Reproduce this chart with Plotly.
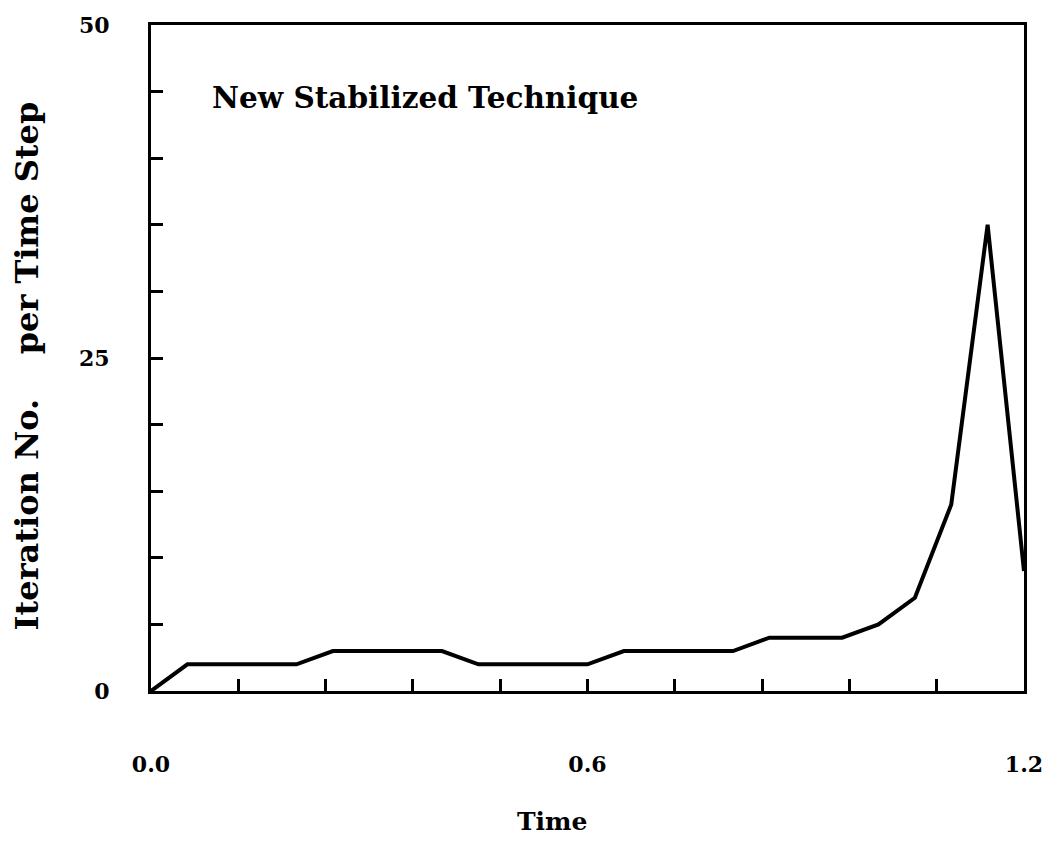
import plotly.graph_objects as go

time = [0.0, 0.05, 0.10, 0.15, 0.20, 0.25, 0.30, 0.35, 0.40, 0.45, 0.50, 0.55,
        0.60, 0.65, 0.70, 0.75, 0.80, 0.85, 0.90, 0.95, 1.00, 1.05, 1.10, 1.15, 1.20]
iterations = [0, 2, 2, 2, 2, 3, 3, 3, 3, 2, 2, 2,
              2, 3, 3, 3, 3, 4, 4, 4, 5, 7, 14, 35, 9]

x_tickvals = [0.0, 0.6, 1.2]
x_ticktext = ["0.0", "0.6", "1.2"]
y_tickvals = [0, 25, 50]
y_ticktext = ["0", "25", "50"]

FONT = "DejaVu Serif"

PL, PR, PT, PB = 151, 1031, 24, 691
W, H = 1055, 844


def px_to_paper(xp, yp):
    return (xp - PL) / (PR - PL), (PB - yp) / (PB - PT)


tx, ty = px_to_paper(210, 97)
xx, xy = px_to_paper(555, 822)
yx, yy = px_to_paper(27, 365)

fig = go.Figure()
fig.add_trace(go.Scatter(x=time, y=iterations, mode="lines",
                         line=dict(color="black", width=4), showlegend=False))

fig.update_layout(
    width=W, height=H,
    margin=dict(l=PL, r=W - PR, t=PT, b=H - PB),
    paper_bgcolor="white", plot_bgcolor="white",
    font=dict(family=FONT, color="black", size=20),
    annotations=[
        dict(text="<b>New Stabilized Technique</b>", xref="paper", yref="paper",
             x=tx, y=ty, xanchor="left", yanchor="middle",
             showarrow=False, font=dict(size=29.5, family=FONT, color="black")),
        dict(text="<b>Time</b>", xref="paper", yref="paper",
             x=xx, y=xy, xanchor="center", yanchor="middle",
             showarrow=False, font=dict(size=25, family=FONT, color="black")),
        dict(text="<b>Iteration No.\u00a0\u00a0\u00a0\u00a0per Time Step</b>", xref="paper", yref="paper",
             x=yx, y=yy, xanchor="center", yanchor="middle", textangle=-90,
             showarrow=False, font=dict(size=32, family=FONT, color="black")),
    ],
)
fig.update_xaxes(
    range=[0, 1.2], showgrid=False, zeroline=False,
    showline=True, linecolor="black", linewidth=3, mirror=True,
    tickmode="array", tickvals=x_tickvals, ticktext=["<b>%s</b>" % t for t in x_ticktext],
    ticks="inside", ticklen=12, tickwidth=3, tickcolor="black",
    minor=dict(dtick=0.12, tick0=0, ticks="inside", ticklen=12, tickwidth=3, tickcolor="black", showgrid=False),
    ticklabelstandoff=52, tickfont=dict(size=22, family=FONT),
)
fig.update_yaxes(
    range=[0, 50], showgrid=False, zeroline=False,
    showline=True, linecolor="black", linewidth=3, mirror=True,
    tickmode="array", tickvals=y_tickvals, ticktext=["<b>%s</b>" % t for t in y_ticktext],
    ticks="inside", ticklen=12, tickwidth=3, tickcolor="black",
    minor=dict(dtick=5, tick0=0, ticks="inside", ticklen=12, tickwidth=3, tickcolor="black", showgrid=False),
    ticklabelstandoff=34, tickfont=dict(size=22, family=FONT),
)

fig.write_html("out.html")
